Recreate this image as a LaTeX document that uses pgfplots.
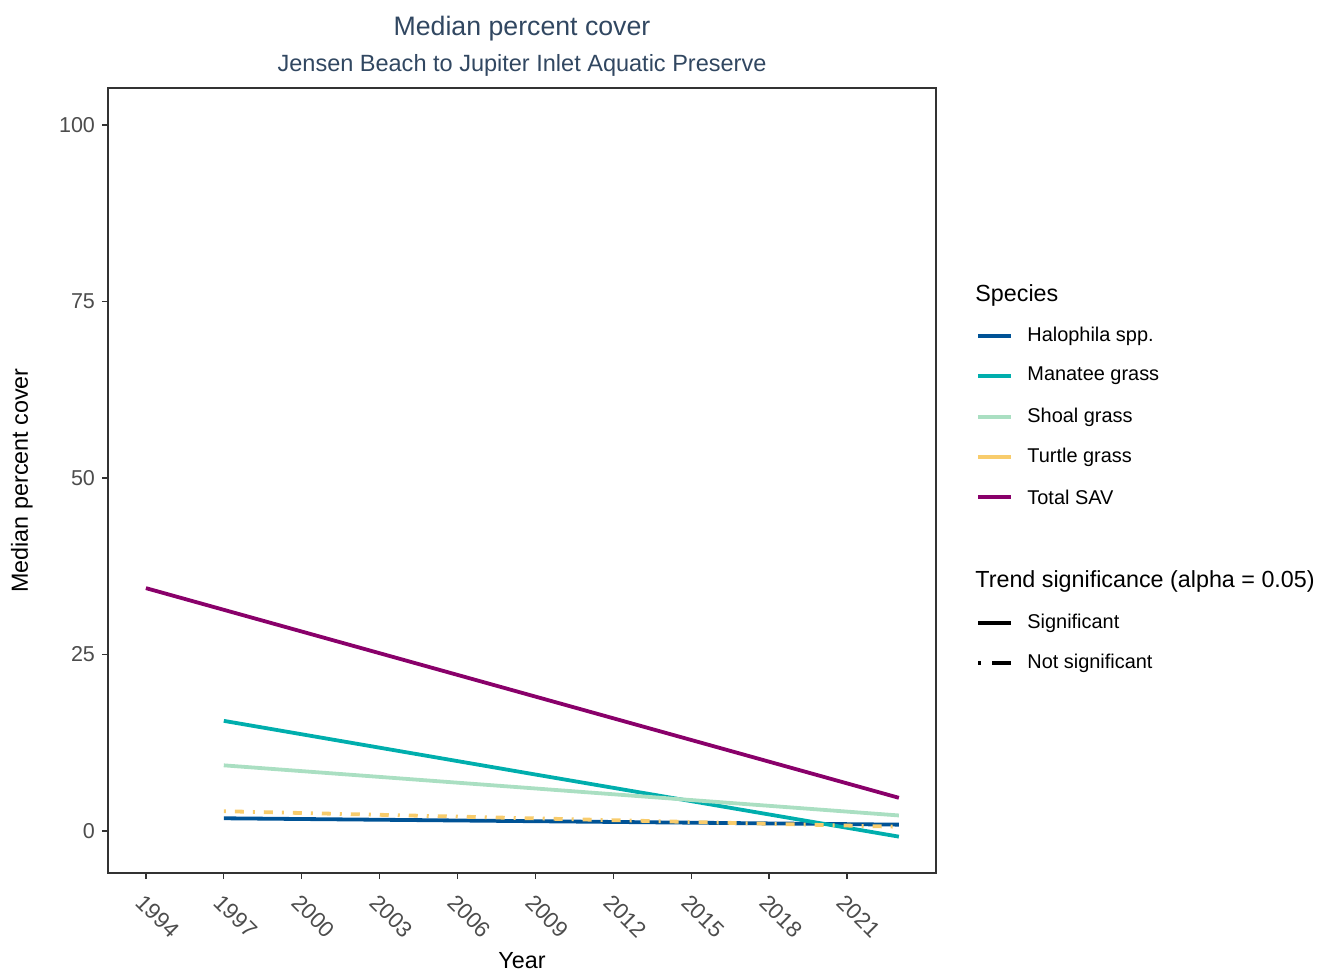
\documentclass[border=0pt]{standalone}
\usepackage{fontspec}
\setmainfont{Liberation Sans}
\usepackage{pgfplots}
\pgfplotsset{compat=1.18}
\definecolor{halo}{RGB}{0,83,150}
\definecolor{mana}{RGB}{0,174,173}
\definecolor{shoal}{RGB}{170,223,194}
\definecolor{turtle}{RGB}{248,204,108}
\definecolor{sav}{RGB}{137,0,106}
\definecolor{titlec}{RGB}{49,71,97}
\begin{document}
\begin{tikzpicture}
\useasboundingbox (0,0) rectangle (660bp,485.5bp);
\begin{axis}[
  scale only axis, width=414bp, height=392.5bp,
  at={(54bp,49bp)}, anchor=south west,
  xmin=1992.54, xmax=2024.43, ymin=-5.95, ymax=105.24,
  xtick={1994,1997,...,2021}, ytick={0,25,50,75,100},
  tick align=outside, tick pos=left, major tick length=3bp,
  axis line style={black!80, line width=0.6bp},
  tick style={black!80, line width=0.6bp},
  /pgf/number format/assume math mode=true, /pgf/number format/1000 sep={},
  x tick label style={rotate=-45, anchor=north west, xshift=1.5bp, yshift=-1.5bp, font=\fontsize{11.2}{12}\selectfont, text=black!70},
  y tick label style={font=\fontsize{10.8}{12}\selectfont, text=black!70},
  xlabel={Year}, ylabel={Median percent cover},
  xlabel style={at={(axis description cs:0.5,0)}, anchor=center, yshift=-44bp, font=\fontsize{11.7}{13}\selectfont},
  ylabel style={at={(axis description cs:-0.104,0.5)}, anchor=center, font=\fontsize{11.7}{13}\selectfont},
  clip=false,
]
\addplot[halo, line width=1.9bp] coordinates {(1997,1.8) (2023,0.9)};
\addplot[mana, line width=1.9bp] coordinates {(1997,15.6) (2009,8.0) (2023,-0.8)};
\addplot[shoal, line width=1.9bp] coordinates {(1997,9.3) (2023,2.2)};
\addplot[turtle, line width=1.9bp, dash pattern=on 1bp off 4.5bp on 4.5bp off 4.5bp] coordinates {(1997,2.8) (2023,0.6)};
\addplot[sav, line width=1.9bp] coordinates {(1994,34.4) (2023,4.7)};
\node[text=titlec, font=\fontsize{13.4}{15}\selectfont] at ([yshift=29.5bp]axis description cs:0.5,1) {Median percent cover};
\node[text=titlec, font=\fontsize{11.8}{13}\selectfont] at ([yshift=11.5bp]axis description cs:0.5,1) {Jensen Beach to Jupiter Inlet Aquatic Preserve};
\end{axis}
% legend
\node[anchor=west, inner sep=0pt, font=\fontsize{11.7}{13}\selectfont] at (487.5bp,338bp) {Species};
\foreach \c/\t/\y in {halo/Halophila spp./317.5, mana/Manatee grass/297.5, shoal/Shoal grass/277, turtle/Turtle grass/257, sav/Total SAV/237}{
  \draw[\c, line width=1.9bp] (489bp,\y bp) -- (505.5bp,\y bp);
  \node[anchor=west, inner sep=0pt, font=\fontsize{10}{12}\selectfont] at (513.5bp,\y bp) {\t};
}
\node[anchor=west, inner sep=0pt, font=\fontsize{11.7}{13}\selectfont] at (487.5bp,195bp) {Trend significance (alpha = 0.05)};
\draw[black, line width=1.9bp] (489bp,174bp) -- (505.5bp,174bp);
\node[anchor=west, inner sep=0pt, font=\fontsize{10}{12}\selectfont] at (513.5bp,174bp) {Significant};
\draw[black, line width=1.9bp, dash pattern=on 1.5bp off 5.5bp on 9.5bp off 5bp] (489bp,154bp) -- (505.5bp,154bp);
\node[anchor=west, inner sep=0pt, font=\fontsize{10}{12}\selectfont] at (513.5bp,154bp) {Not significant};
\end{tikzpicture}
\end{document}
